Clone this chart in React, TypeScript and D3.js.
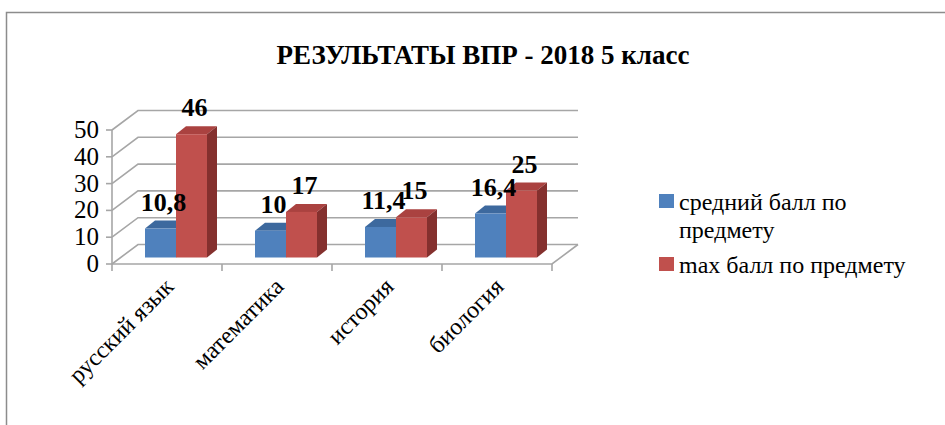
import React from "react";
import * as d3 from "d3";

const categories = ["русский язык", "математика", "история", "биология"];
const seriesNames = ["средний балл по предмету", "max балл по предмету"];
const avgScores = [10.8, 10, 11.4, 16.4];
const maxScores = [46, 17, 15, 25];
const yTicks = [0, 10, 20, 30, 40, 50];

const FONT = '"Times New Roman", "Liberation Serif", serif';
const faces = [
  { front: "#4F81BD", top: "#3D699E", side: "#385D8A" },
  { front: "#C0504D", top: "#AA4240", side: "#84302E" },
];

// floor depth (3d offset) and bar depth
const depthX = 26;
const depthY = -19.5;
const barShiftX = 9;
const barShiftY = -6.5;
const barDX = 10;
const barDY = -8;

const App: React.FC = () => {
  const width = 945;
  const height = 425;
  const x = d3.scaleBand<string>().domain(categories).range([112, 552]);
  const inner = d3.scaleBand<number>().domain([0, 1]).range([0, 62]);
  const y = d3.scaleLinear().domain([0, 50]).range([264, 130]);
  const x0 = x.range()[0];
  const x1 = x.range()[1];
  const pad = (x.bandwidth() - 62) / 2;
  const w = inner.bandwidth();
  const values = [avgScores, maxScores];

  const bars = categories.flatMap((c, ci) =>
    values.map((vals, si) => {
      const v = vals[ci];
      const fx = x(c)! + pad + inner(si)! + barShiftX;
      const by = y(0) + barShiftY;
      const ty = y(v) + barShiftY;
      return { key: `${ci}-${si}`, v, fx, by, ty, col: faces[si] };
    })
  );

  return (
    <svg
      width={width}
      height={height}
      style={{ position: "absolute", left: 0, top: 0, background: "#fff", fontFamily: FONT }}
    >
      <path d={`M6.5,${height} V12.5 H${width}`} fill="none" stroke="#8c8c8c" strokeWidth={1.5} />
      <text x={483} y={64} textAnchor="middle" style={{ fontFamily: FONT, fontWeight: "bold", fontSize: 27 }}>
        РЕЗУЛЬТАТЫ ВПР - 2018 5 класс
      </text>

      <g fill="none" stroke="#a6a6a6" strokeWidth={1.6}>
        {yTicks.map((t) => (
          <g key={t}>
            <path d={`M${x0},${y(t)} L${x0 + depthX},${y(t) + depthY} H${x1 + depthX}`} />
            <line x1={x0 - 6} x2={x0} y1={y(t)} y2={y(t)} />
          </g>
        ))}
        <line x1={x0} x2={x0} y1={y(0)} y2={y(50)} />
        <path d={`M${x0},${y(0)} H${x1} L${x1 + depthX},${y(0) + depthY}`} />
        {[...categories.map((c) => x(c)!), x1].map((bx) => (
          <line key={bx} x1={bx} x2={bx} y1={y(0)} y2={y(0) + 7} />
        ))}
      </g>

      {yTicks.map((t) => (
        <text key={t} x={99} y={y(t) + 8} textAnchor="end" style={{ fontFamily: FONT, fontSize: 25 }}>
          {t}
        </text>
      ))}

      {categories.map((c) => (
        <text
          key={c}
          transform={`translate(${x(c)! + x.bandwidth() / 2 + 8},${y(0) + 24}) rotate(-45)`}
          textAnchor="end"
          style={{ fontFamily: FONT, fontSize: 24 }}
        >
          {c}
        </text>
      ))}

      {bars.map((b) => (
        <g key={b.key}>
          <path d={`M${b.fx},${b.ty} l${barDX},${barDY} h${w} l${-barDX},${-barDY} Z`} fill={b.col.top} />
          <path d={`M${b.fx + w},${b.ty} l${barDX},${barDY} V${b.by + barDY} l${-barDX},${-barDY} Z`} fill={b.col.side} />
          <rect x={b.fx} y={b.ty} width={w} height={b.by - b.ty} fill={b.col.front} />
        </g>
      ))}

      {bars.map((b) => (
        <text
          key={b.key}
          x={b.fx + w / 2 + 3}
          y={b.ty + barDY - 10}
          textAnchor="middle"
          style={{ fontFamily: FONT, fontWeight: "bold", fontSize: 26 }}
        >
          {String(b.v).replace(".", ",")}
        </text>
      ))}

      <rect x={659} y={194} width={15} height={14} fill={faces[0].front} />
      <text x={679} y={210} style={{ fontFamily: FONT, fontSize: 24 }}>
        <tspan x={679}>средний балл по</tspan>
        <tspan x={679} dy={28}>предмету</tspan>
      </text>
      <rect x={659} y={257} width={15} height={14} fill={faces[1].front} />
      <text x={679} y={273} style={{ fontFamily: FONT, fontSize: 24 }}>
        {seriesNames[1]}
      </text>
    </svg>
  );
};

export default App;
